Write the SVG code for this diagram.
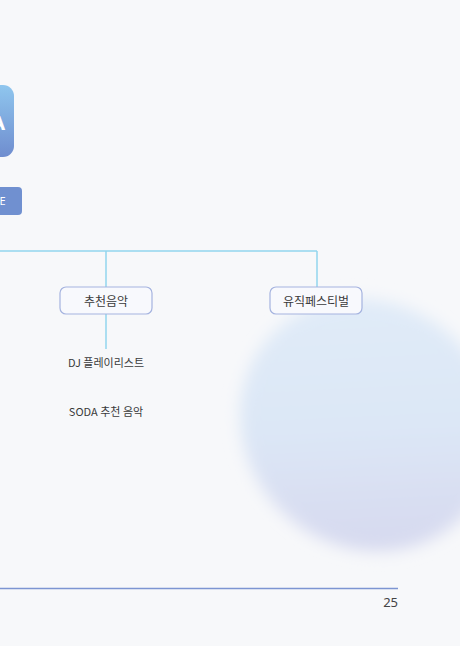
<svg xmlns="http://www.w3.org/2000/svg" width="460" height="646" viewBox="0 0 460 646">
  <defs>
    <linearGradient id="topGrad" x1="0" y1="0" x2="0" y2="1">
      <stop offset="0" stop-color="#8fc6ee"/>
      <stop offset="1" stop-color="#6f8dcf"/>
    </linearGradient>
    <linearGradient id="blobGrad" x1="0" y1="0" x2="1" y2="1">
      <stop offset="0" stop-color="#e2edf9"/>
      <stop offset="0.5" stop-color="#dce7f6"/>
      <stop offset="1" stop-color="#d4d3ec"/>
    </linearGradient>
    <filter id="blur" x="-30%" y="-30%" width="160%" height="160%">
      <feGaussianBlur stdDeviation="8"/>
    </filter>
    <style>
      .conn { stroke: #92d5ee; stroke-width: 1.5; fill: none; }
      .node rect { fill: #f8f9fd; stroke: #a5b3df; stroke-width: 1.2; }
      .label { font-family: "Noto Sans CJK KR", "Noto Sans", sans-serif; font-size: 12px; fill: #3a3a3a; text-anchor: middle; }
      .leaf { font-family: "Noto Sans CJK KR", "Noto Sans", sans-serif; font-size: 11px; fill: #3a3a3a; text-anchor: middle; }
    </style>
  </defs>
  <rect x="0" y="0" width="460" height="646" fill="#f7f8fa"/>

  <g id="blob">
    <ellipse cx="368" cy="425" rx="132" ry="122" transform="rotate(40 368 425)" fill="url(#blobGrad)" filter="url(#blur)"/>
  </g>

  <g id="node-top">
    <rect x="-40" y="85" width="54" height="72" rx="11" fill="url(#topGrad)"/>
    <text x="5" y="130" font-family="Noto Sans, sans-serif" font-size="20" font-weight="bold" fill="#ffffff" text-anchor="end">A</text>
  </g>

  <g id="node-sub">
    <rect x="-30" y="187" width="52" height="28" rx="4" fill="#7090d0"/>
    <text x="5.5" y="205" font-family="Noto Sans, sans-serif" font-size="11" fill="#ffffff" text-anchor="end">E</text>
  </g>

  <g id="connectors">
    <path class="conn" d="M0 251 H317 M106 251 V287 M317 251 V287 M106 314 V349"/>
  </g>

  <g id="node-recommend" class="node">
    <rect x="60" y="287" width="92" height="27" rx="6"/>
    <text class="label" x="106" y="305.5">추천음악</text>
  </g>

  <g id="node-festival" class="node">
    <rect x="270" y="287" width="92" height="27" rx="6"/>
    <text class="label" x="316" y="305.5">유직페스티벌</text>
  </g>

  <g id="leaf-dj">
    <text class="leaf" x="106" y="367">DJ 플레이리스트</text>
  </g>
  <g id="leaf-soda">
    <text class="leaf" x="106" y="416">SODA 추천 음악</text>
  </g>

  <g id="footer">
    <line x1="0" y1="588.5" x2="398" y2="588.5" stroke="#7d95d2" stroke-width="1.5"/>
    <text x="398" y="607" font-family="Noto Sans, sans-serif" font-size="13" fill="#444444" text-anchor="end">25</text>
  </g>
</svg>
